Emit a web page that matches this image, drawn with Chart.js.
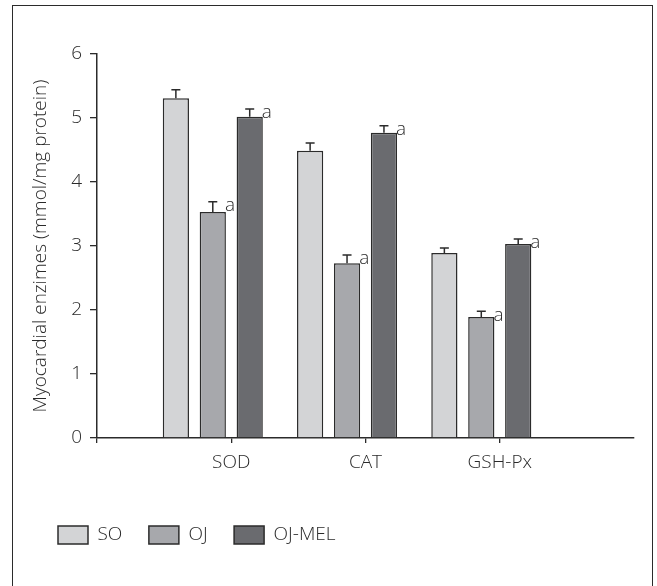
<!DOCTYPE html>
<html>
<head>
<meta charset="utf-8">
<script src="https://cdn.jsdelivr.net/npm/chart.js@4/dist/chart.umd.min.js"></script>
<style>
  html, body { margin: 0; padding: 0; background: #fff; overflow: hidden; }
  #wrap { position: relative; width: 657px; height: 586px; }
  #frame { position: absolute; left: 12px; top: 5px; width: 641px; height: 640px; border: 1.5px solid #2b2b2b; box-sizing: border-box; }
  canvas { position: absolute; left: 0; top: 0; }
</style>
</head>
<body>
<div id="wrap">
  <div id="frame"></div>
  <canvas id="c" width="657" height="586"></canvas>
</div>
<script>
// ---- data ----
const categories = ['SOD', 'CAT', 'GSH-Px'];
const seriesNames = ['SO', 'OJ', 'OJ-MEL'];
const soValues    = [5.31, 4.49, 2.89];
const soErrors    = [0.13, 0.12, 0.08];
const ojValues    = [3.53, 2.73, 1.89];
const ojErrors    = [0.16, 0.13, 0.09];
const ojMelValues = [5.02, 4.77, 3.03];
const ojMelErrors = [0.12, 0.11, 0.08];
const ojSignificant    = [true, true, true];
const ojMelSignificant = [true, true, true];
const yTicks = [0, 1, 2, 3, 4, 5, 6];
const yTitle = 'Myocardial enzimes (mmol/mg protein)';

// ---- styling ----
const FAMILY = '"Open Sans", "DejaVu Sans", sans-serif';
const FONT = { family: FAMILY, size: 19, weight: '300' };
const TEXT = '#2a2a2a';
const LINE = '#2b2b2b';

// empty category slots at both ends so ticks sit on the axis like the original
const labels = [''].concat(categories, ['']);
const pad = arr => [null].concat(arr, [null]);

const errorBars = [soErrors, ojErrors, ojMelErrors];
const sigMarks  = [null, ojSignificant, ojMelSignificant];

const errorBarPlugin = {
  id: 'errorBars',
  afterDatasetsDraw(chart) {
    const ctx = chart.ctx;
    const y = chart.scales.y;
    ctx.save();
    for (let d = 0; d < 3; d++) {
      const meta = chart.getDatasetMeta(d);
      const vals = chart.data.datasets[d].data;
      meta.data.forEach((bar, i) => {
        const v = vals[i];
        if (v === null || v === undefined) return;
        const e = errorBars[d][i - 1];
        const top = y.getPixelForValue(v + e);
        const base = y.getPixelForValue(v);
        ctx.strokeStyle = LINE;
        ctx.lineWidth = 1.5;
        ctx.beginPath();
        ctx.moveTo(bar.x, base);
        ctx.lineTo(bar.x, top);
        ctx.moveTo(bar.x - 4.5, top);
        ctx.lineTo(bar.x + 4.5, top);
        ctx.stroke();
        const sig = sigMarks[d];
        if (sig && sig[i - 1]) {
          ctx.fillStyle = TEXT;
          ctx.font = FONT.weight + ' ' + FONT.size + 'px ' + FAMILY;
          ctx.textAlign = 'left';
          ctx.textBaseline = 'middle';
          ctx.fillText('a', bar.x + bar.width / 2 - 1, top + 4);
        }
      });
    }
    ctx.restore();
  }
};

new Chart(document.getElementById('c'), {
  type: 'bar',
  data: {
    labels: labels,
    datasets: [
      { label: seriesNames[0], data: pad(soValues),    backgroundColor: '#d3d4d6', borderColor: LINE, borderWidth: 1.5 },
      { label: seriesNames[1], data: pad(ojValues),    backgroundColor: '#a7a8ac', borderColor: LINE, borderWidth: 1.5 },
      { label: seriesNames[2], data: pad(ojMelValues), backgroundColor: '#6a6b6f', borderColor: LINE, borderWidth: 1.5 },
      { label: '', data: pad([null, null, null]) }
    ]
  },
  options: {
    responsive: false,
    animation: false,
    devicePixelRatio: 1,
    categoryPercentage: 1.1,
    barPercentage: 0.71,
    layout: { padding: { left: 31.5, top: 54, right: 23, bottom: 31.5 } },
    plugins: {
      legend: {
        position: 'bottom',
        align: 'start',
        labels: {
          boxWidth: 30, boxHeight: 18, padding: 26.5,
          font: FONT, color: TEXT,
          filter: item => item.datasetIndex < 3
        }
      },
      tooltip: { enabled: false }
    },
    scales: {
      x: {
        type: 'category',
        offset: false,
        grid: {
          offset: false,
          drawOnChartArea: false,
          tickLength: 5,
          lineWidth: 1.3,
          color: c => (c.index === labels.length - 1 ? 'rgba(0,0,0,0)' : LINE)
        },
        border: { color: LINE, width: 1.5 },
        ticks: { padding: 8.5, font: FONT, color: TEXT, maxRotation: 0, autoSkip: false },
        afterFit: s => { s.height = 61; }
      },
      y: {
        min: 0, max: 6,
        afterBuildTicks: s => { s.ticks = yTicks.map(v => ({ value: v })); },
        grid: { drawOnChartArea: false, tickLength: 7, lineWidth: 1.3, color: LINE },
        border: { color: LINE, width: 1.5 },
        ticks: { padding: 8, font: FONT, color: TEXT },
        title: { display: true, text: yTitle, font: Object.assign({}, FONT, { lineHeight: 1 }), color: TEXT, padding: { top: 0, bottom: 0 } },
        afterFit: s => { s.width = 65.5; }
      }
    }
  },
  plugins: [errorBarPlugin]
});
</script>
</body>
</html>
